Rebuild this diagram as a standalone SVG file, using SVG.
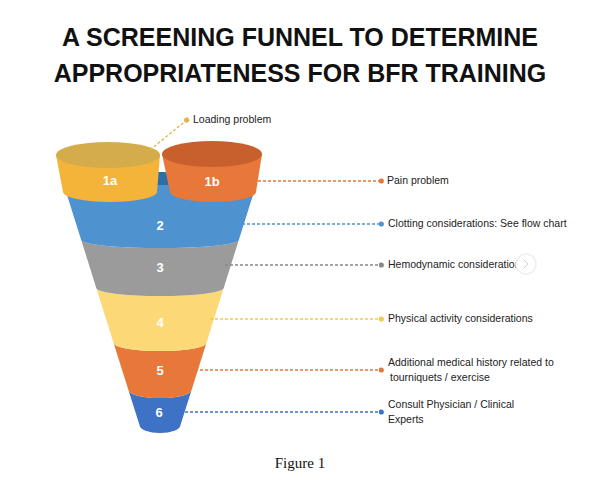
<svg xmlns="http://www.w3.org/2000/svg" width="600" height="484" viewBox="0 0 600 484">
<style>
.t{font-family:"Liberation Sans",Arial,sans-serif;font-weight:900;font-size:25px;fill:#111;text-anchor:middle}
.n{font-family:"Liberation Sans",Arial,sans-serif;font-weight:bold;font-size:13px;fill:#fff;text-anchor:middle}
.l{font-family:"Liberation Sans",Arial,sans-serif;font-size:10.5px;fill:#222}
.c{fill:none;stroke-width:1.3;stroke-dasharray:3 2}
</style>
<defs>
<marker id="a" viewBox="0 0 6 6" refX="5" refY="3" markerWidth="4" markerHeight="4" orient="auto"><circle cx="3" cy="3" r="3" fill="context-stroke"/></marker>
</defs>
<rect width="600" height="484" fill="#fff"/>
<text class="t" x="300" y="46">A SCREENING FUNNEL TO DETERMINE</text>
<text class="t" x="300" y="82">APPROPRIATENESS FOR BFR TRAINING</text>
<g id="b6"><path d="M128.4,390 L139.5,425 A20.5 8 0 0 0 180.5,425 L191.6,390 A31.6 8 0 0 1 128.4,390Z" fill="#3D72C4"/><text class="n" x="159" y="417">6</text></g>
<g id="b5"><path d="M113.6,343 L128.4,390 A31.6 8 0 0 0 191.6,390 L206.4,343 A46.4 8 0 0 1 113.6,343Z" fill="#E8783A"/><text class="n" x="160" y="375">5</text></g>
<g id="b4"><path d="M96.3,288 L113.6,343 A46.4 8 0 0 0 206.4,343 L223.7,288 A63.7 8 0 0 1 96.3,288Z" fill="#FDD877"/><text class="n" x="160" y="327">4</text></g>
<g id="b3"><path d="M81.2,240 L96.3,288 A63.7 8 0 0 0 223.7,288 L238.8,240 A78.8 8 0 0 1 81.2,240Z" fill="#9B9B9B"/><text class="n" x="160" y="272">3</text></g>
<g id="b2"><path d="M62.3,180 L81.2,240 A78.8 8 0 0 0 238.8,240 L257.7,180Z" fill="#4E93D0"/><ellipse cx="160" cy="182" rx="92" ry="10" fill="#2F6FA8"/><path d="M64,185 L67,195 A93 9 0 0 0 253,195 L256,185Z" fill="#4E93D0"/><text class="n" x="160" y="230">2</text></g>
<g id="b1a"><path d="M56,155 L63,192 A47 10 0 0 0 157,192 L160,155Z" fill="#F4B43A"/><ellipse cx="108" cy="155" rx="52" ry="13" fill="#D4AC4C"/><text class="n" x="110" y="185">1a</text></g>
<g id="b1b"><path d="M162,154 L170,192 A43 10 0 0 0 256,192 L262,154Z" fill="#E8783A"/><ellipse cx="212" cy="154" rx="50" ry="13" fill="#C8602E"/><text class="n" x="212" y="186">1b</text></g>
<g id="connectors">
<path class="c" d="M150,150 L188,119" stroke="#E2B646" marker-end="url(#a)"/>
<path class="c" d="M258,181 L383,181" stroke="#E07840" marker-end="url(#a)"/>
<path class="c" d="M242,224 L383,224" stroke="#4E93D0" marker-end="url(#a)"/>
<path class="c" d="M225,265 L383,265" stroke="#888" marker-end="url(#a)"/>
<path class="c" d="M210,319 L383,319" stroke="#F4C94A" marker-end="url(#a)"/>
<path class="c" d="M195,370 L383,370" stroke="#E07840" marker-end="url(#a)"/>
<path class="c" d="M180,412 L383,412" stroke="#3D72C4" marker-end="url(#a)"/>
</g>
<text class="l" x="193" y="123">Loading problem</text>
<text class="l" x="387" y="184">Pain problem</text>
<text class="l" x="388" y="227">Clotting considerations: See flow chart</text>
<text class="l" x="388" y="268">Hemodynamic considerations</text>
<text class="l" x="388" y="322">Physical activity considerations</text>
<text class="l" x="388" y="366">Additional medical history related to</text>
<text class="l" x="390" y="381">tourniquets / exercise</text>
<text class="l" x="388" y="408">Consult Physician / Clinical</text>
<text class="l" x="388" y="423">Experts</text>
<circle cx="526" cy="264" r="10" fill="#fff" stroke="#eee" stroke-width="1.5"/>
<path d="M524,260 L528,264 L524,268" fill="none" stroke="#ccc" stroke-width="1"/>
<text x="300" y="468" style="font-family:'Liberation Serif',serif;font-size:15px;fill:#111;text-anchor:middle">Figure 1</text>
</svg>
